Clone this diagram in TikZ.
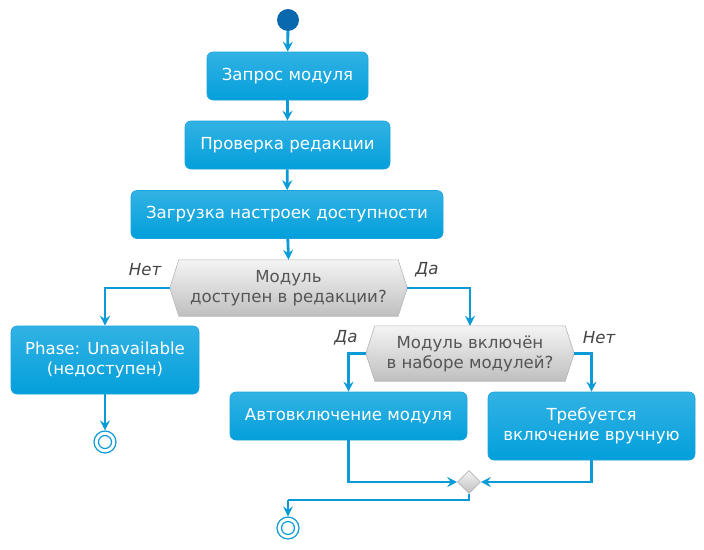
\documentclass[tikz,border=0pt]{standalone}
\usepackage{fontspec}
\setmainfont{DejaVu Sans}
\usetikzlibrary{arrows.meta,calc,shapes.geometric}
\definecolor{lineblue}{HTML}{0B9AD8}
\definecolor{boxtop}{HTML}{32B2E4}
\definecolor{boxbot}{HTML}{039FDB}
\definecolor{boxdraw}{HTML}{1BA3DC}
\definecolor{startc}{HTML}{0A68AF}
\definecolor{dtop}{HTML}{F4F4F4}
\definecolor{dbot}{HTML}{BFBFBF}
\definecolor{ddraw}{HTML}{B5B5B5}
\definecolor{dtext}{HTML}{555555}
\definecolor{ltext}{HTML}{444444}
\begin{document}
\begin{tikzpicture}[x=1pt,y=-1pt,
  actbox/.style={rounded corners=6pt, draw=boxdraw, line width=0.6pt, top color=boxtop, bottom color=boxbot,
    text=white, font=\fontsize{16.6}{20}\selectfont, align=center, inner sep=0pt, minimum height=48pt},
  decbox/.style={inner sep=0pt, text=dtext, font=\fontsize{16.6}{20}\selectfont, align=center},
  lbl/.style={text=ltext, font=\fontsize{16.6}{20}\selectfont\itshape, inner sep=0pt},
  flow/.style={draw=lineblue, line width=2.8pt, -{Stealth[length=10pt,width=10pt,inset=3.5pt]}},
  plain/.style={draw=lineblue, line width=2.8pt},
  endring/.style={circle, draw=lineblue, line width=1.2pt, inner sep=0pt, minimum size=22pt}
]
\useasboundingbox (0,0) rectangle (704,549);

% nodes
\node[circle, fill=startc, inner sep=0pt, minimum size=22pt] (start) at (288,20) {};
\node[actbox, minimum width=161pt] (b1) at (287.5,76) {Запрос модуля};
\node[actbox, minimum width=205pt] (b2) at (287.5,145) {Проверка редакции};
\node[actbox, minimum width=312pt] (b3) at (287,214.5) {Загрузка настроек доступности};

\node[decbox, minimum width=237pt, minimum height=56pt] (d1) at (288.5,288) {Модуль\\доступен в редакции?};
\shade[top color=dtop, bottom color=dbot, draw=ddraw, line width=0.6pt]
  (d1.west) -- ($(d1.north west)+(9,0)$) -- ($(d1.north east)+(-9,0)$) -- (d1.east)
  -- ($(d1.south east)+(-9,0)$) -- ($(d1.south west)+(9,0)$) -- cycle;
\node[decbox] at (d1) {Модуль\\доступен в редакции?};

\node[actbox, minimum width=188pt, minimum height=68pt] (unav) at (105,360) {Phase: Unavailable\\(недоступен)};
\node[endring] (end1) at (105,442) {};
\node[circle, draw=lineblue, line width=1.2pt, inner sep=0pt, minimum size=13pt] (end1i) at (end1) {};

\node[decbox, minimum width=208pt, minimum height=55pt] (d2) at (470,353.5) {Модуль включён\\в наборе модулей?};
\shade[top color=dtop, bottom color=dbot, draw=ddraw, line width=0.6pt]
  (d2.west) -- ($(d2.north west)+(9,0)$) -- ($(d2.north east)+(-9,0)$) -- (d2.east)
  -- ($(d2.south east)+(-9,0)$) -- ($(d2.south west)+(9,0)$) -- cycle;
\node[decbox] at (d2) {Модуль включён\\в наборе модулей?};

\node[actbox, minimum width=237pt] (auto) at (348.5,416) {Автовключение модуля};
\node[actbox, minimum width=207pt, minimum height=68pt] (manual) at (591.5,426) {Требуется\\включение вручную};

\node[diamond, top color=dtop, bottom color=dbot, draw=ddraw, line width=0.6pt, inner sep=0pt, minimum size=23pt] (merge) at (469,482) {};
\coordinate (jn) at (288,500);
\node[endring] (end2) at (288,528) {};
\node[circle, draw=lineblue, line width=1.2pt, inner sep=0pt, minimum size=13pt] (end2i) at (end2) {};

% labels
\node[lbl] (l1) at (145,270) {Нет};
\node[lbl] (l2) at (427,270) {Да};
\node[lbl] (l3) at (346,338) {Да};
\node[lbl] (l4) at (599,338) {Нет};

% connectors
\draw[flow] (start) -- (b1);
\draw[flow] (b1) -- (b2);
\draw[flow] (b2) -- (b3);
\draw[flow] (b3) -- (d1.north);
\draw[flow] (d1.west) -| (unav.north);
\draw[flow] (d1.east) -| (d2.north);
\draw[flow] (unav) -- (end1);
\draw[flow] (d2.west) -| (auto.north);
\draw[flow] (d2.east) -| (manual.north);
\draw[flow] (auto.south) |- (merge.west);
\draw[flow] (manual.south) |- (merge.east);
\draw[plain] (merge.south) |- (jn);
\draw[flow] (jn) -- (end2.north);
\end{tikzpicture}
\end{document}
